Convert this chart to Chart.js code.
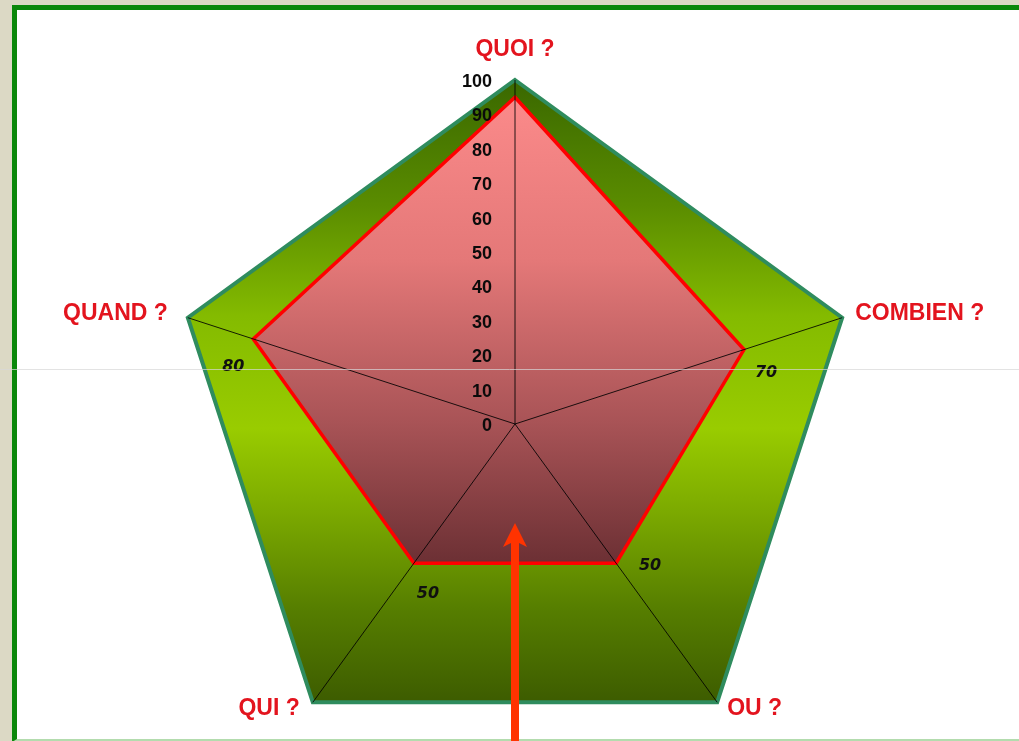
<!DOCTYPE html>
<html>
<head>
<meta charset="utf-8">
<script src="https://cdn.jsdelivr.net/npm/chart.js@4"></script>
<style>
  html, body { margin: 0; padding: 0; overflow: hidden; }
  body { width: 1019px; height: 741px; background: #dcd9c5; position: relative; }
  #panel {
    position: absolute; left: 12px; top: 5px; width: 1030px; height: 729px;
    background: #ffffff;
    border-top: 5px solid #0b880b; border-left: 5px solid #0b880b; border-right: 5px solid #0b880b;
    border-bottom: 3px solid #b3dcae;
  }
  #wrap { position: absolute; left: 0; top: 0; width: 1019px; height: 800px; }
</style>
</head>
<body>
<div id="panel"></div>
<div id="wrap"><canvas id="radar" width="1019" height="800"></canvas></div>
<script>
// Données du graphique
const categories = ['QUOI ?', 'COMBIEN ?', 'OU ?', 'QUI ?', 'QUAND ?'];
const scores = [95, 70, 50, 50, 80];
const maxScores = [100, 100, 100, 100, 100];
const tickValues = [0, 10, 20, 30, 40, 50, 60, 70, 80, 90, 100];
const valueLabels = ['', '70', '50', '50', '80'];

// Décalages des étiquettes (en pixels, par rapport au sommet / au point)
const labelLayout = [
  { align: 'center', dx: 0, dy: -30 },
  { align: 'left', dx: 13, dy: -4 },
  { align: 'left', dx: 10, dy: 6 },
  { align: 'right', dx: -13, dy: 6 },
  { align: 'right', dx: -20, dy: -4 }
];
const valueOffsets = [null, [22, 23], [34, 3], [14, 31], [-20, 28]];

// Dégradé vertical basé sur l'échelle radiale
function degrade(chart, topValue, bottomValue, stops) {
  const r = chart.scales.r;
  if (!r || !r.drawingArea) return stops[0][1];
  const top = r.getPointPositionForValue(0, topValue).y;
  const bottom = r.getPointPositionForValue(2, bottomValue).y;
  const g = chart.ctx.createLinearGradient(0, top, 0, bottom);
  stops.forEach(s => g.addColorStop(s[0], s[1]));
  return g;
}

const decorPlugin = {
  id: 'decor',
  afterDraw(chart) {
    const ctx = chart.ctx;
    const r = chart.scales.r;
    ctx.save();

    // graduations sur l'axe vertical
    ctx.font = 'bold 18px "Liberation Sans", Arial, sans-serif';
    ctx.fillStyle = '#0a0a0a';
    ctx.textAlign = 'right';
    ctx.textBaseline = 'middle';
    tickValues.forEach(v => {
      const p = r.getPointPositionForValue(0, v);
      ctx.fillText(String(v), p.x - 23, p.y + 2);
    });

    // noms des axes
    ctx.font = 'bold 23px "Liberation Sans", Arial, sans-serif';
    ctx.fillStyle = '#e3141e';
    categories.forEach((c, i) => {
      const p = r.getPointPositionForValue(i, 100);
      const L = labelLayout[i];
      ctx.textAlign = L.align;
      ctx.fillText(c, p.x + L.dx, p.y + L.dy);
    });

    // valeurs près des points
    const meta = chart.getDatasetMeta(0);
    ctx.font = 'bold italic 16px "DejaVu Sans", Verdana, sans-serif';
    ctx.fillStyle = '#101010';
    ctx.textAlign = 'center';
    valueLabels.forEach((t, i) => {
      if (!t) return;
      const pt = meta.data[i];
      ctx.fillText(t, pt.x + valueOffsets[i][0], pt.y + valueOffsets[i][1]);
    });

    // flèche rouge
    const cx = r.xCenter;
    const tip = r.yCenter + 99;
    ctx.fillStyle = '#ff3300';
    ctx.beginPath();
    ctx.moveTo(cx, tip);
    ctx.lineTo(cx + 12, tip + 24);
    ctx.lineTo(cx + 4, tip + 20);
    ctx.lineTo(cx + 4, 760);
    ctx.lineTo(cx - 4, 760);
    ctx.lineTo(cx - 4, tip + 20);
    ctx.lineTo(cx - 12, tip + 24);
    ctx.closePath();
    ctx.fill();

    // trait clair horizontal (défaut de la capture)
    ctx.strokeStyle = 'rgba(215,215,215,0.7)';
    ctx.lineWidth = 1;
    ctx.beginPath();
    ctx.moveTo(0, 369.5);
    ctx.lineTo(1019, 369.5);
    ctx.stroke();

    ctx.restore();
  }
};

new Chart(document.getElementById('radar'), {
  type: 'radar',
  data: {
    labels: categories,
    datasets: [
      {
        label: 'Score',
        data: scores,
        fill: true,
        borderColor: '#ff0000',
        borderWidth: 3.5,
        pointRadius: 0,
        backgroundColor: (c) => degrade(c.chart, 95, 50, [
          [0, '#fb8a8a'], [0.35, '#e47878'], [0.7, '#a85356'], [1, '#6c3034']
        ])
      },
      {
        label: 'Maximum',
        data: maxScores,
        fill: true,
        borderColor: '#2f8c5e',
        borderWidth: 4,
        pointRadius: 0,
        backgroundColor: (c) => degrade(c.chart, 100, 100, [
          [0, '#3a6800'], [0.2, '#5a8c00'], [0.38, '#84bb00'], [0.56, '#99cc00'],
          [0.7, '#7aa800'], [0.85, '#567e00'], [1, '#3d5c00']
        ])
      }
    ]
  },
  options: {
    responsive: false,
    devicePixelRatio: 1,
    animation: false,
    layout: { padding: { top: 80, bottom: 32, left: 171, right: 160 } },
    plugins: { legend: { display: false }, tooltip: { enabled: false } },
    elements: { line: { tension: 0 } },
    scales: {
      r: {
        min: 0,
        max: 100,
        ticks: { display: false, stepSize: 10, z: 1 },
        grid: { display: false, z: 1 },
        angleLines: { display: true, color: 'rgba(0,0,0,0.85)', lineWidth: 1 },
        pointLabels: { display: false }
      }
    }
  },
  plugins: [decorPlugin]
});
</script>
</body>
</html>
